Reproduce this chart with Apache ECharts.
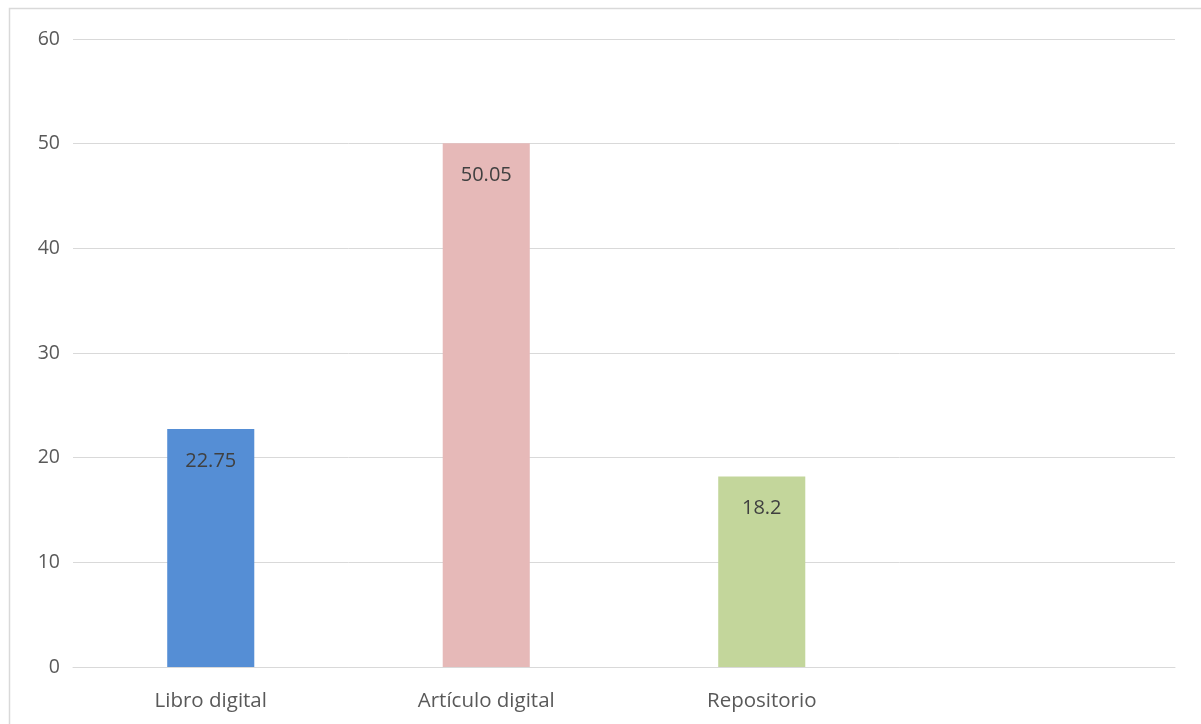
<!DOCTYPE html>
<html>
<head>
<meta charset="utf-8">
<script src="https://cdn.jsdelivr.net/npm/echarts@6/dist/echarts.min.js"></script>
<style>
html,body{margin:0;padding:0;background:#fff;}
#c{width:1201px;height:724px;}
</style>
</head>
<body>
<div id="c"></div>
<script>
const categories = ['Libro digital', 'Artículo digital', 'Repositorio', ''];
const values = [22.75, 50.05, 18.2, null];
const barColors = ['#558ED5', '#E6B9B8', '#C3D69B', '#FFFFFF'];
const yTicks = [0, 10, 20, 30, 40, 50, 60];

const chart = echarts.init(document.getElementById('c'), null, {renderer: 'canvas'});
const FONT = '"Open Sans", "Liberation Sans", sans-serif';
chart.setOption({
  animation: false,
  backgroundColor: '#fff',
  graphic: [{
    type: 'rect',
    shape: {x: 9.5, y: 8.5, width: 1300, height: 800},
    style: {fill: 'none', stroke: '#D9D9D9', lineWidth: 1.5},
    silent: true,
    z: -1
  }],
  grid: {left: 73, right: 26, top: 39, bottom: 57, containLabel: false},
  xAxis: {
    type: 'category',
    data: categories,
    axisTick: {show: false},
    axisLine: {show: true, lineStyle: {color: '#D9D9D9', width: 1}},
    axisLabel: {color: '#595959', fontSize: 20.5, fontFamily: FONT, margin: 24}
  },
  yAxis: {
    type: 'value',
    min: yTicks[0],
    max: yTicks[yTicks.length - 1],
    interval: 10,
    axisLine: {show: false},
    axisTick: {show: false},
    splitLine: {lineStyle: {color: '#D9D9D9', width: 1}},
    axisLabel: {color: '#595959', fontSize: 19.5, fontFamily: FONT, margin: 13}
  },
  series: [{
    type: 'bar',
    data: values.map((v, i) => ({value: v, itemStyle: {color: barColors[i]}})),
    barWidth: '31.6%',
    label: {
      show: true,
      position: 'insideTop',
      distance: 22,
      color: '#404040',
      fontSize: 20,
      fontFamily: FONT,
      formatter: p => p.value == null ? '' : String(p.value)
    }
  }]
});
</script>
</body>
</html>
